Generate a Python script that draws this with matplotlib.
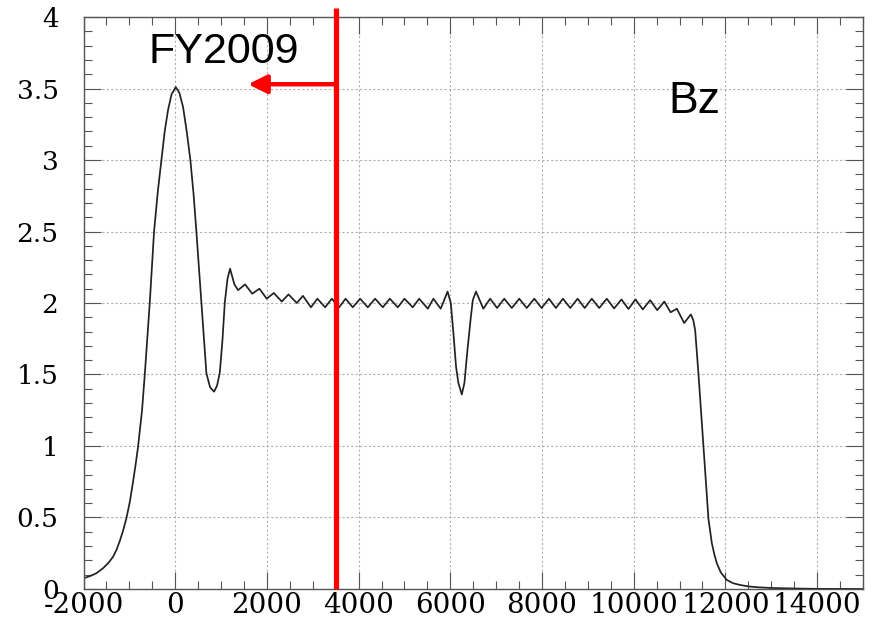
import matplotlib.pyplot as plt
from matplotlib.ticker import MultipleLocator

plt.rcParams['axes.unicode_minus'] = False

# Bz field profile along z
z = [-2000, -1860, -1720, -1575, -1450, -1355, -1280, -1210, -1140, -1066,
     -990, -920, -860, -811, -724, -665, -610, -556, -462, -380,
     -302, -230, -157, -80, 11, 90, 171, 250, 330, 400,
     461, 570, 679, 760, 847, 910, 971, 1030, 1080, 1140,
     1196, 1290, 1370, 1523, 1680, 1835, 1996, 2150, 2324, 2470,
     2651, 2785, 2960, 3100, 3270, 3414, 3575, 3715, 3872, 4032,
     4200, 4359, 4527, 4680, 4854, 5000, 5181, 5320, 5509, 5630,
     5790, 5940, 6010, 6067, 6126, 6176, 6250, 6307, 6373, 6447,
     6490, 6560, 6720, 6868, 7020, 7176, 7340, 7503, 7667, 7831,
     7991, 8151, 8303, 8456, 8616, 8776, 8930, 9085, 9248, 9412,
     9572, 9733, 9885, 10038, 10198, 10358, 10512, 10667, 10804, 10941,
     11100, 11246, 11300, 11340, 11413, 11521, 11630, 11704, 11760, 11813,
     11900, 12031, 12170, 12322, 12500, 12700, 13000, 13400, 14000, 15000]
bz = [0.075, 0.09, 0.11, 0.145, 0.185, 0.226, 0.275, 0.335, 0.405, 0.494,
      0.61, 0.75, 0.88, 0.995, 1.25, 1.497, 1.75, 2.0, 2.5, 2.78,
      3.0, 3.2, 3.35, 3.46, 3.51, 3.47, 3.37, 3.2, 3.0, 2.76,
      2.5, 2.0, 1.51, 1.41, 1.38, 1.42, 1.51, 1.74, 2.0, 2.17,
      2.24, 2.13, 2.09, 2.13, 2.065, 2.10, 2.03, 2.07, 2.01, 2.06,
      2.0, 2.05, 1.97, 2.03, 1.97, 2.03, 1.97, 2.03, 1.97, 2.03,
      1.97, 2.03, 1.97, 2.03, 1.97, 2.03, 1.97, 2.03, 1.96, 2.03,
      1.96, 2.08, 2.0, 1.79, 1.55, 1.44, 1.36, 1.44, 1.67, 1.90,
      2.02, 2.08, 1.96, 2.03, 1.965, 2.03, 1.965, 2.03, 1.965, 2.03,
      1.965, 2.03, 1.965, 2.03, 1.965, 2.03, 1.965, 2.03, 1.965, 2.03,
      1.962, 2.025, 1.958, 2.025, 1.955, 2.02, 1.95, 2.01, 1.935, 1.96,
      1.86, 1.92, 1.88, 1.81, 1.5, 1.0, 0.49, 0.32, 0.24, 0.18,
      0.115, 0.063, 0.04, 0.028, 0.018, 0.012, 0.007, 0.004, 0.001, 0.0]

cut_z = 3500       # FY2009 boundary
arrow_tip = 1590
arrow_y = 3.53

fig = plt.figure(figsize=(8.73, 6.19), dpi=100)
ax = fig.add_axes([0.0957, 0.0485, 0.8928, 0.924])

ax.plot(z, bz, color='#222222', lw=1.25, solid_joinstyle='round')

ax.set_xlim(-2000, 15000)
ax.set_ylim(0, 4)
ax.xaxis.set_major_locator(MultipleLocator(2000))
ax.xaxis.set_minor_locator(MultipleLocator(500))
ax.yaxis.set_major_locator(MultipleLocator(0.5))
ax.yaxis.set_minor_locator(MultipleLocator(0.1))
ax.yaxis.set_major_formatter(lambda v, p: f'{v:g}')

ax.tick_params(which='both', direction='in', top=True, right=True,
               color='#555555', width=0.8)
ax.tick_params(which='major', length=12)
ax.tick_params(which='minor', length=6)
ax.tick_params(axis='y', labelsize=19, pad=18)
ax.tick_params(axis='x', labelsize=20, pad=2)
for lab in ax.get_xticklabels() + ax.get_yticklabels():
    lab.set_family('DejaVu Serif')

ax.grid(True, which='major', color='#b0b0b0', lw=0.8, linestyle=(0, (2, 2)))
for s in ax.spines.values():
    s.set_color('#555555')
    s.set_linewidth(1.0)

# red cut line and arrow
ax.plot([cut_z, cut_z], [0.0, 4.06], color='red', lw=3.8, clip_on=False,
        solid_capstyle='butt', zorder=5)
ax.annotate('', xy=(arrow_tip, arrow_y), xytext=(cut_z, arrow_y),
            arrowprops=dict(arrowstyle='-|>', color='red', lw=3.2,
                            mutation_scale=28, shrinkA=0, shrinkB=0),
            zorder=5)

ax.text(-593, 3.678, 'FY2009', fontsize=31, family='Liberation Sans',
        ha='left', va='baseline')
ax.text(10751, 3.33, 'Bz', fontsize=32, family='Liberation Sans',
        ha='left', va='baseline')

fig.savefig('out.png', dpi=100)
